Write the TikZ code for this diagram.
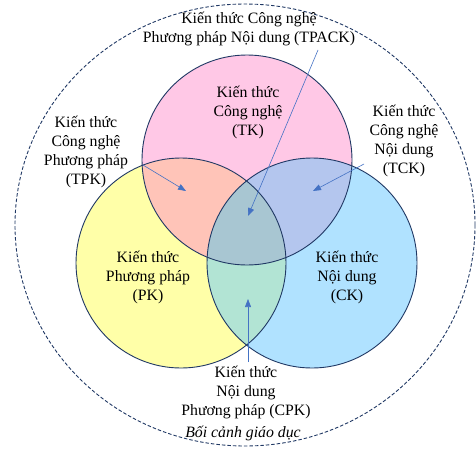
\documentclass[tikz,border=0pt]{standalone}
\usepackage{fontspec}
\setmainfont{Liberation Serif}
\usepackage{xcolor}
\usepackage{tikz}
\usetikzlibrary{arrows.meta}
\definecolor{navy}{HTML}{203864}
\definecolor{arrowblue}{HTML}{4472C4}
\definecolor{pinkT}{HTML}{FFC8E6}
\definecolor{yellowP}{HTML}{FFFFA8}
\definecolor{blueC}{HTML}{B0E2FF}
\definecolor{mixTP}{HTML}{FFC4B8}
\definecolor{mixTC}{HTML}{B4C6EE}
\definecolor{mixPC}{HTML}{B2E4D4}
\definecolor{mixTPC}{HTML}{A8C6D2}
\tikzset{
  ring/.style={draw=navy, line width=0.9pt},
  outer/.style={draw=navy, dashed, dash pattern=on 3.5pt off 2pt, line width=0.9pt},
  arr/.style={draw=arrowblue, line width=0.6pt, -{Triangle[length=8pt,width=6pt]}},
  lab/.style={align=center, font=\fontsize{15.8}{19}\selectfont, inner sep=1pt},
}

\begin{document}
\begin{tikzpicture}[x=1pt, y=-1pt]
  \useasboundingbox (0,0) rectangle (476,450);
  \coordinate (T) at (247,160);
  \coordinate (P) at (181,263);
  \coordinate (C) at (312,263);
  \def\rad{105}

  \draw[outer] (245,225) ellipse [x radius=230, y radius=221];

  \fill[pinkT] (T) circle (\rad);
  \fill[yellowP] (P) circle (\rad);
  \fill[blueC] (C) circle (\rad);
  \begin{scope}
    \clip (T) circle (\rad);
    \fill[mixTP] (P) circle (\rad);
    \fill[mixTC] (C) circle (\rad);
  \end{scope}
  \begin{scope}
    \clip (P) circle (\rad);
    \fill[mixPC] (C) circle (\rad);
    \clip (T) circle (\rad);
    \fill[mixTPC] (C) circle (\rad);
  \end{scope}
  \draw[ring] (T) circle (\rad);
  \draw[ring] (P) circle (\rad);
  \draw[ring] (C) circle (\rad);

  \node[lab] (tpack) at (249,29) {Kiến thức Công nghệ\\Phương pháp Nội dung (TPACK)};
  \node[lab] (tk) at (248,112) {Kiến thức\\Công nghệ\\(TK)};
  \node[lab] (tpk) at (86,152) {Kiến thức\\Công nghệ\\Phương pháp\\(TPK)};
  \node[lab] (tck) at (404,141) {Kiến thức\\Công nghệ\\Nội dung\\(TCK)};
  \node[lab] (pk) at (148,277) {Kiến thức\\Phương pháp\\(PK)};
  \node[lab] (ck) at (347,277) {Kiến thức\\Nội dung\\(CK)};
  \node[lab] (cpk) at (246,392) {Kiến thức\\Nội dung\\Phương pháp (CPK)};
  \node[lab, font=\fontsize{15.8}{19}\selectfont\itshape] (ctx) at (243,433) {Bối cảnh giáo dục};

  \coordinate (tpackA) at (318,50);
  \coordinate (tpackB) at (248,216);
  \coordinate (tpkA) at (143,165);
  \coordinate (tpkB) at (186,191);
  \coordinate (tckA) at (364,164);
  \coordinate (tckB) at (313,191);
  \coordinate (cpkA) at (248,362);
  \coordinate (cpkB) at (248,299);

  \draw[arr] (tpackA) -- (tpackB);
  \draw[arr] (tpkA) -- (tpkB);
  \draw[arr] (tckA) -- (tckB);
  \draw[arr] (cpkA) -- (cpkB);
\end{tikzpicture}
\end{document}
